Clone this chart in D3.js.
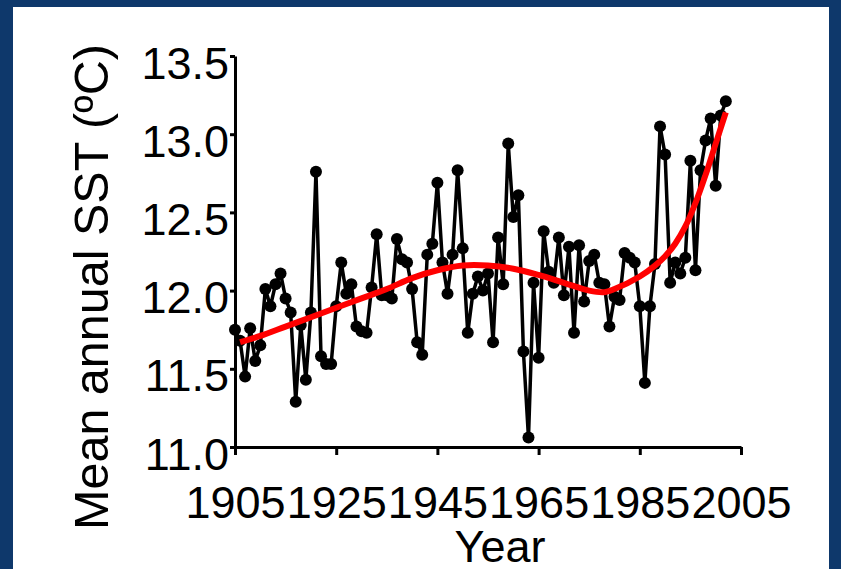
<!DOCTYPE html>
<html lang="en">
<head>
  <meta charset="utf-8">
  <title>Mean annual SST</title>
  <script src="https://d3js.org/d3.v7.min.js" charset="utf-8"></script>
  <style>
    body { margin: 0; }
  </style>
</head>
<body>
<script>
  var years = [1905,1906,1907,1908,1909,1910,1911,1912,1913,1914,
               1915,1916,1917,1918,1919,1920,1921,1922,1923,1924,
               1925,1926,1927,1928,1929,1930,1931,1932,1933,1934,
               1935,1936,1937,1938,1939,1940,1941,1942,1943,1944,
               1945,1946,1947,1948,1949,1950,1951,1952,1953,1954,
               1955,1956,1957,1958,1959,1960,1961,1962,1963,1964,
               1965,1966,1967,1968,1969,1970,1971,1972,1973,1974,
               1975,1976,1977,1978,1979,1980,1981,1982,1983,1984,
               1985,1986,1987,1988,1989,1990,1991,1992,1993,1994,
               1995,1996,1997,1998,1999,2000,2001,2002];
  var sst = [11.75,11.68,11.45,11.76,11.55,11.65,12.01,11.90,12.04,12.11,
             11.95,11.86,11.29,11.78,11.43,11.86,12.76,11.58,11.53,11.53,
             11.90,12.18,11.98,12.04,11.77,11.74,11.73,12.02,12.36,11.97,
             11.97,11.95,12.33,12.20,12.18,12.01,11.67,11.59,12.23,12.30,
             12.69,12.18,11.98,12.23,12.77,12.27,11.73,11.98,12.09,12.00,
             12.11,11.67,12.34,12.04,12.94,12.47,12.61,11.61,11.06,12.05,
             11.57,12.38,12.12,12.05,12.34,11.97,12.28,11.73,12.29,11.93,
             12.19,12.23,12.05,12.04,11.77,11.96,11.94,12.24,12.21,12.18,
             11.90,11.41,11.90,12.17,13.05,12.87,12.05,12.18,12.11,12.21,
             12.83,12.13,12.77,12.96,13.10,12.67,13.12,13.21];

  // smooth trend (red)
  var fitYears = [1906,1910,1915,1920,1925,1930,1935,1940,1945,1950,
                  1955,1960,1965,1970,1975,1978,1980,1985,1988,1990,
                  1992,1994,1996,1998,2000,2002];
  var fitSst = [11.67,11.71,11.77,11.83,11.89,11.95,12.01,12.08,12.13,12.16,
                12.16,12.14,12.10,12.05,12.00,11.99,12.01,12.09,12.16,12.22,
                12.30,12.41,12.56,12.74,12.94,13.14];

  var xTicks = [1905,1925,1945,1965,1985,2005];
  var yTicks = [11.0,11.5,12.0,12.5,13.0,13.5];

  var w = 841;
  var h = 569;
  var font = "'Liberation Sans', Arial, sans-serif";

  var svg = d3.select("body")
    .append("svg")
    .attr("width", w)
    .attr("height", h);

  // blue frame
  svg.append("rect")
    .attr("width", w)
    .attr("height", h)
    .attr("fill", "#0e386b");
  svg.append("rect")
    .attr("x", 13)
    .attr("y", 7)
    .attr("width", 816)
    .attr("height", h - 7)
    .attr("fill", "white");

  var xScale = d3.scaleLinear()
    .domain([1905, 2005])
    .range([235, 741]);

  var yScale = d3.scaleLinear()
    .domain([11, 13.5])
    .range([447, 56]);

  var xAxis = svg.append("g")
    .attr("transform", "translate(0,447)")
    .call(d3.axisBottom(xScale)
      .tickValues(xTicks)
      .tickFormat(d3.format("d"))
      .tickSizeInner(8)
      .tickSizeOuter(0)
      .tickPadding(31));

  var yAxis = svg.append("g")
    .attr("transform", "translate(235,0)")
    .call(d3.axisLeft(yScale)
      .tickValues(yTicks)
      .tickFormat(d3.format(".1f"))
      .tickSizeInner(5)
      .tickSizeOuter(0)
      .tickPadding(1));

  [xAxis, yAxis].forEach(function(g){
    g.attr("font-family", font).attr("font-size", 45);
    g.selectAll(".domain, .tick line")
      .attr("stroke", "black")
      .attr("stroke-width", 3);
    g.selectAll("text").attr("fill", "black");
  });
  yAxis.selectAll("text").attr("dy", "0.49em");

  var line = d3.line()
    .x(function(d, i){ return xScale(years[i]); })
    .y(function(d){ return yScale(d); });

  svg.append("path")
    .datum(sst)
    .attr("d", line)
    .attr("fill", "none")
    .attr("stroke", "black")
    .attr("stroke-width", 3.5)
    .attr("stroke-linejoin", "round");

  svg.selectAll("circle.pt")
    .data(sst)
    .enter()
    .append("circle")
    .attr("class", "pt")
    .attr("cx", function(d, i){ return xScale(years[i]); })
    .attr("cy", function(d){ return yScale(d); })
    .attr("r", 6)
    .attr("fill", "black");

  var fitLine = d3.line()
    .curve(d3.curveCatmullRom)
    .x(function(d, i){ return xScale(fitYears[i]); })
    .y(function(d){ return yScale(d); });

  svg.append("path")
    .datum(fitSst)
    .attr("d", fitLine)
    .attr("fill", "none")
    .attr("stroke", "#ff0000")
    .attr("stroke-width", 6);

  svg.append("text")
    .attr("font-family", font)
    .attr("font-size", 48.5)
    .attr("text-anchor", "middle")
    .attr("transform", "translate(108,287) rotate(-90)")
    .text("Mean annual SST (ºC)");

  svg.append("text")
    .attr("font-family", font)
    .attr("font-size", 45)
    .attr("text-anchor", "middle")
    .attr("x", 500)
    .attr("y", 562)
    .text("Year");
</script>
</body>
</html>
